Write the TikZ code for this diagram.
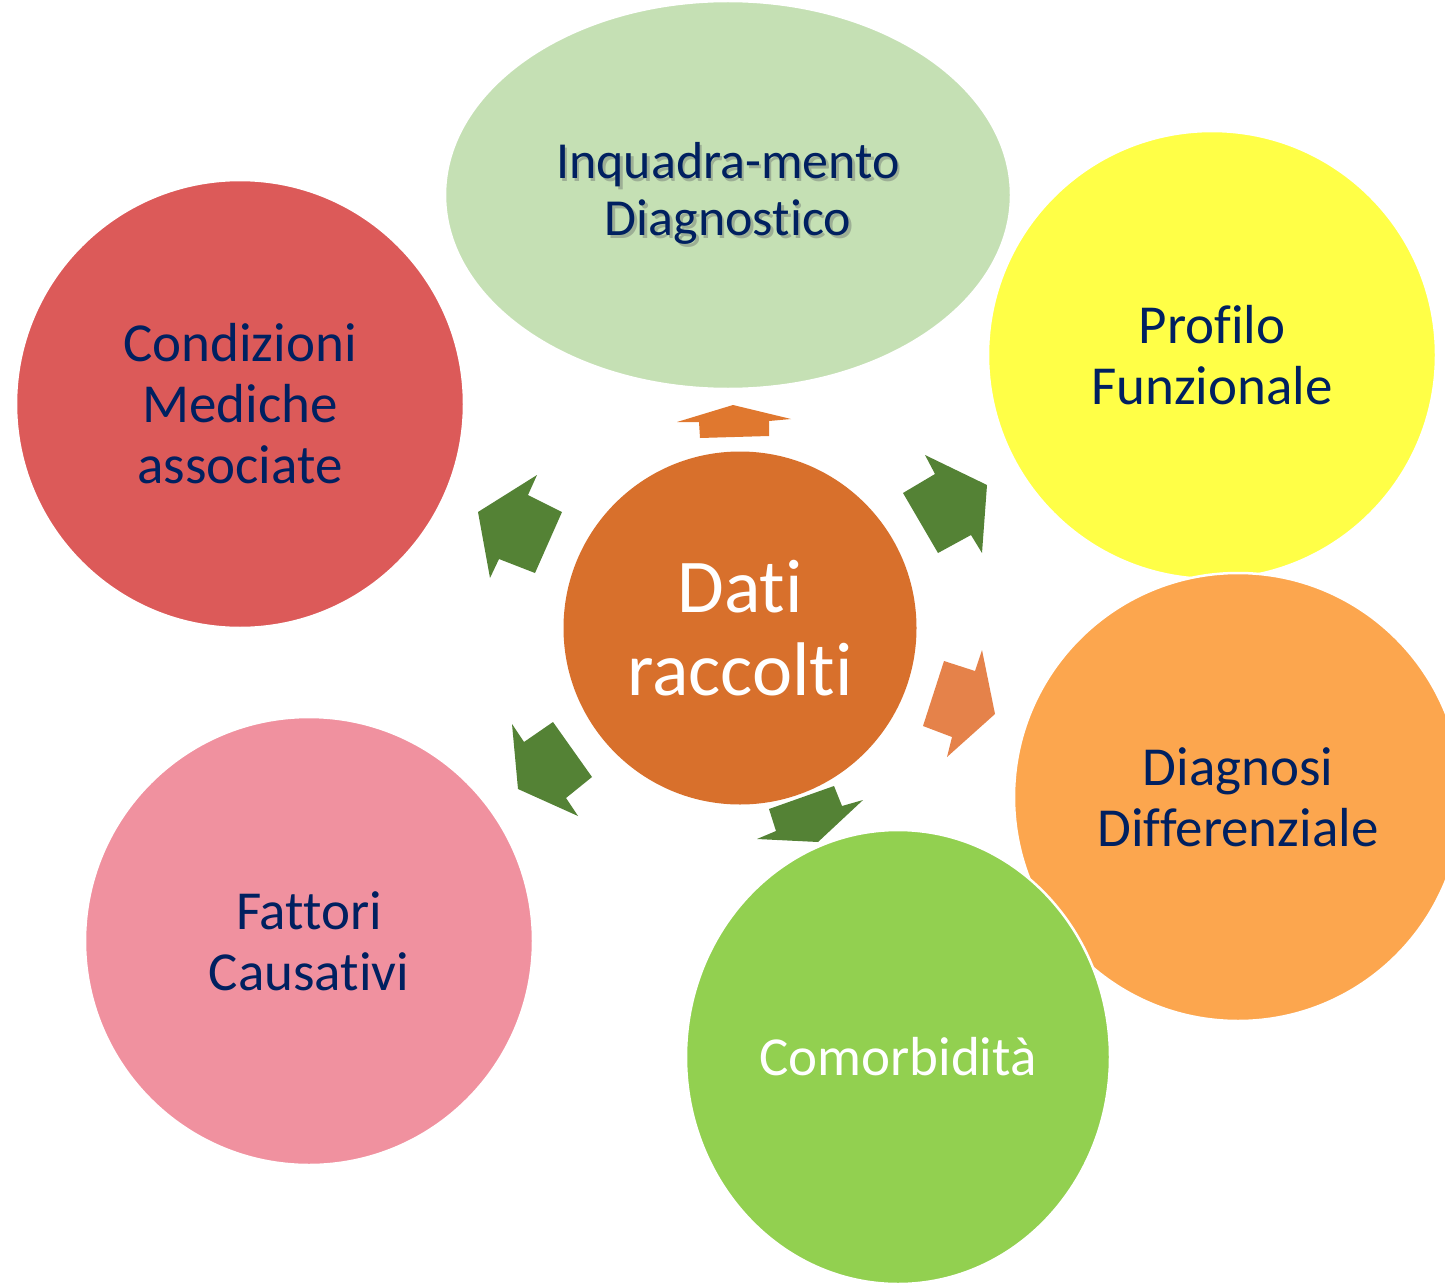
\documentclass[tikz,border=0pt]{standalone}
\usepackage{fontspec}
\setmainfont{Carlito}[Ligatures={NoCommon}]
\usetikzlibrary{shapes.geometric}
\definecolor{cRed}{HTML}{DC5A59}
\definecolor{cPink}{HTML}{F0919F}
\definecolor{cLight}{HTML}{C5E0B4}
\definecolor{cYellow}{HTML}{FFFF47}
\definecolor{cOrange}{HTML}{FCA64E}
\definecolor{cGreen}{HTML}{92D050}
\definecolor{cCenter}{HTML}{D8702C}
\definecolor{cArrowG}{HTML}{548235}
\definecolor{cArrowO}{HTML}{E0782F}
\definecolor{cArrowO2}{HTML}{E5824A}
\definecolor{cNavy}{HTML}{002060}
\definecolor{cShadow}{HTML}{9DAF95}
\newcommand{\shadowline}[1]{\leavevmode\rlap{\hspace{2.5pt}\raisebox{-2.5pt}{\textcolor{cShadow}{#1}}}#1}
\begin{document}
\begin{tikzpicture}[x=1pt,y=-1pt,
  bubble/.style={circle, draw=white, line width=2.5pt, inner sep=0pt,
    minimum size=448pt, align=center, text=cNavy,
    font=\fontsize{55}{61}\selectfont}]
\useasboundingbox (0,0) rectangle (1445,1284);
\clip (0,0) rectangle (1445,1284);
\fill[white] (0,0) rectangle (1445,1284);
% outer bubbles
\node[bubble, fill=cRed] (cond) at (240,404) {Condizioni\\Mediche\\associate};
\node[bubble, ellipse, fill=cLight, minimum width=566pt, minimum height=388pt,
  font=\fontsize{52}{57}\selectfont] (inq) at (728,195)
  {\shadowline{Inquadra-mento}\\\shadowline{Diagnostico}};
\node[bubble, fill=cYellow] (prof) at (1212,355) {Profilo\\Funzionale};
\node[bubble, fill=cOrange] (diag) at (1238,797) {Diagnosi\\Differenziale};
\node[bubble, ellipse, fill=cGreen, text=white, minimum width=424pt, minimum height=454pt] (com) at (898,1057) {Comorbidità};
\node[bubble, fill=cPink] (fatt) at (309,941) {Fattori\\Causativi};
% centre
\node[circle, fill=cCenter, inner sep=0pt, minimum size=353pt, align=center, text=white,
  font=\fontsize{76}{83}\selectfont] (dati) at (740,628) {Dati\\raccolti};
% block arrows
\fill[cArrowO] (733,405) -- (791,419) -- (769,421) -- (769,436) -- (700,438) -- (699,422) -- (677,422) -- cycle;
\fill[cArrowG] (987,485) -- (982,553) -- (971,535) -- (938,553) -- (903,493) -- (935,474) -- (925,455) -- cycle;
\fill[cArrowO2] (995,714) -- (947,757) -- (952,737) -- (923,726) -- (944,661) -- (975,671) -- (982,650) -- cycle;
\fill[cArrowG] (818,842) -- (757,839) -- (776,831) -- (769,809) -- (834,786) -- (842,806) -- (863,800) -- cycle;
\fill[cArrowG] (518,789) -- (512,724) -- (524,742) -- (553,722) -- (592,777) -- (566,798) -- (578,816) -- cycle;
\fill[cArrowG] (478,512) -- (537,475) -- (528,495) -- (562,512) -- (535,573) -- (499,559) -- (490,578) -- cycle;
\end{tikzpicture}
\end{document}
